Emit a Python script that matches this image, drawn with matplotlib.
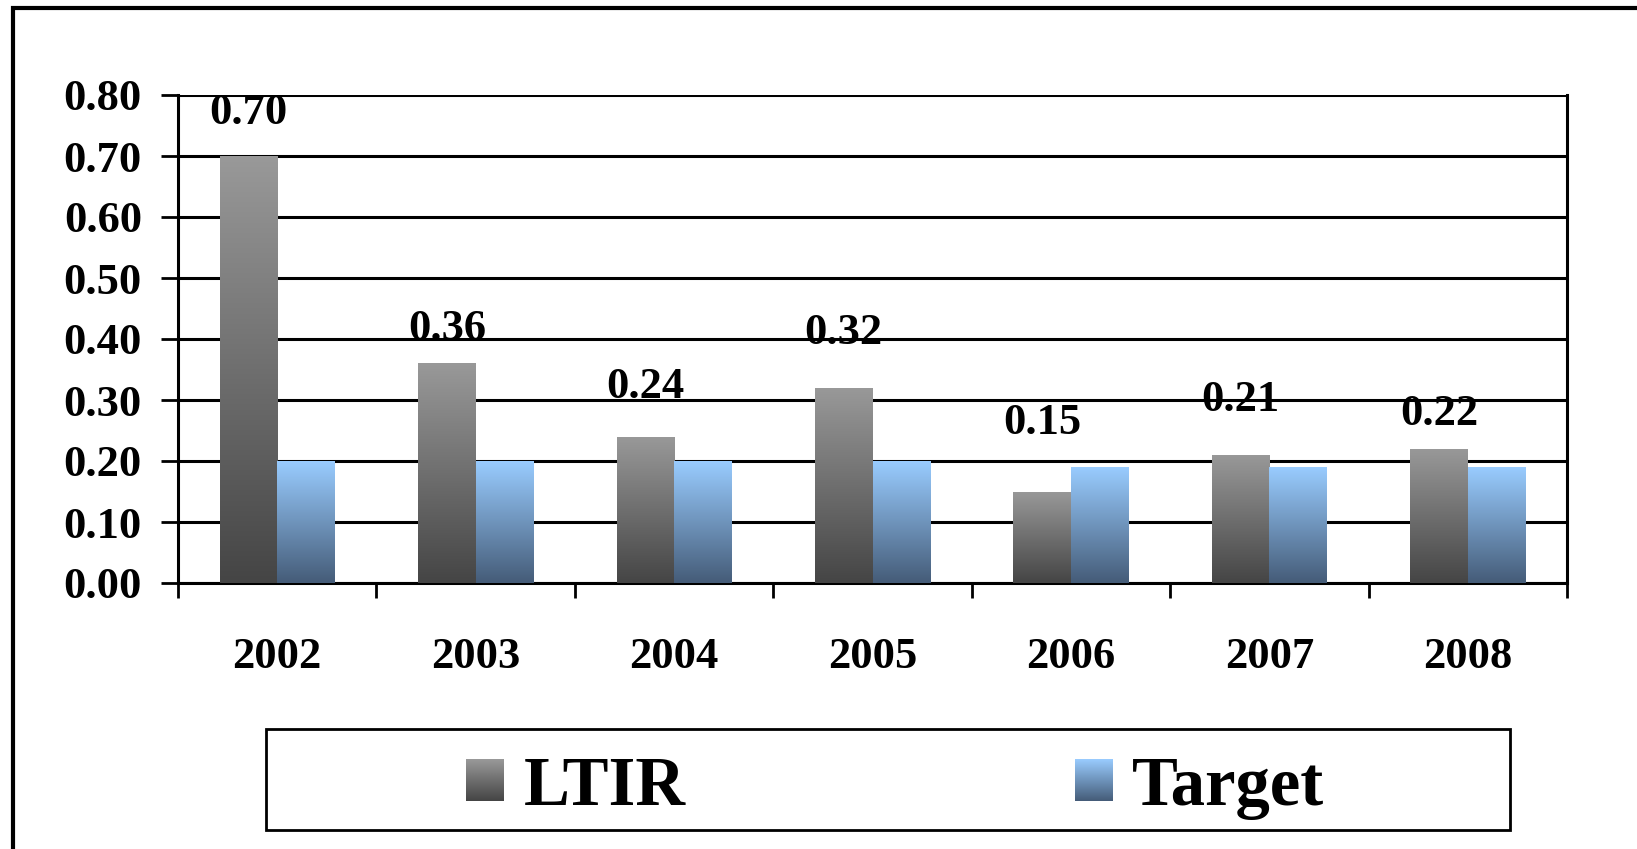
import numpy as np
import matplotlib
matplotlib.use("Agg")
import matplotlib.pyplot as plt
from matplotlib.patches import Rectangle
from matplotlib.image import BboxImage
from matplotlib.transforms import Bbox, TransformedBbox
from matplotlib.legend_handler import HandlerBase

# ---------------------------------------------------------
# data
# ---------------------------------------------------------
years = ["2002", "2003", "2004", "2005", "2006", "2007", "2008"]
ltir = [0.70, 0.36, 0.24, 0.32, 0.15, 0.21, 0.22]
target = [0.20, 0.20, 0.20, 0.20, 0.19, 0.19, 0.19]
ltir_labels = ["0.70", "0.36", "0.24", "0.32", "0.15", "0.21", "0.22"]
yticks = [0.0, 0.1, 0.2, 0.3, 0.4, 0.5, 0.6, 0.7, 0.8]

# label lift above each bar (pixels), as placed in the original
label_lift = [43, 34, 50, 55, 68, 55, 35]

plt.rcParams["font.family"] = ["Liberation Serif", "DejaVu Serif"]
plt.rcParams["font.weight"] = "bold"

GRAY = ((0.60, 0.60, 0.60), (0.27, 0.27, 0.27))
BLUE = ((0.60, 0.80, 1.00), (0.27, 0.36, 0.47))


def gradient(top, bottom, n=256):
    t = np.linspace(0, 1, n)[:, None]
    top = np.array(top)
    bottom = np.array(bottom)
    img = top[None, :] * (1 - t) + bottom[None, :] * t
    return img[:, None, :]


fig = plt.figure(figsize=(16.37, 8.49), dpi=100)
ax = fig.add_axes([178 / 1637, 1 - 583 / 849, (1567 - 178) / 1637, (583 - 95) / 849])

x = np.arange(len(years))
w = 0.29
bars1 = ax.bar(x - w / 2, ltir, w, color="none", edgecolor="none", zorder=3)
bars2 = ax.bar(x + w / 2, target, w, color="none", edgecolor="none", zorder=3)

# gradient fill for every bar, clipped to the bar rectangle
for bars, cols in ((bars1, GRAY), (bars2, BLUE)):
    for b in bars:
        x0, y0 = b.get_x(), b.get_y()
        im = ax.imshow(gradient(*cols), extent=(x0, x0 + b.get_width(), y0, y0 + b.get_height()),
                       aspect="auto", zorder=3, interpolation="bilinear")
        im.set_clip_path(b)

ax.set_xlim(-0.5, len(years) - 0.5)
ax.set_ylim(0, 0.8)

# value labels on LTIR bars
for b, txt, lift in zip(bars1, ltir_labels, label_lift):
    ax.annotate(txt, (b.get_x() + b.get_width() / 2, b.get_height()),
                xytext=(0, lift), textcoords="offset pixels",
                ha="center", va="center", fontsize=32, fontweight="bold", zorder=5)

# grid and axes
ax.set_yticks(yticks)
ax.set_yticklabels(["%.2f" % v for v in yticks])
ax.yaxis.grid(True, color="black", linewidth=2.2, zorder=0)
ax.set_axisbelow(True)
ax.set_xticks(np.arange(len(years) + 1) - 0.5)
ax.set_xticklabels([])
ax.set_xticks(x, minor=True)
ax.set_xticklabels(years, minor=True)
ax.tick_params(axis="x", which="major", length=11, width=2, direction="out")
ax.tick_params(axis="x", which="minor", length=0, pad=39, labelsize=32)
ax.tick_params(axis="y", length=12, width=2, pad=14, labelsize=32)
for lab in ax.get_xticklabels(minor=True) + ax.get_yticklabels():
    lab.set_fontweight("bold")

ax.spines["top"].set_visible(False)
for s in ("left", "right", "bottom"):
    ax.spines[s].set_linewidth(2.2)
    ax.spines[s].set_color("black")


# legend with gradient swatches
class GradientHandler(HandlerBase):
    def __init__(self, cols):
        super().__init__()
        self.cols = cols

    def create_artists(self, legend, orig_handle, xdescent, ydescent, width, height, fontsize, trans):
        bb = Bbox.from_bounds(-xdescent, -ydescent, width, height)
        im = BboxImage(TransformedBbox(bb, trans), interpolation="bilinear")
        im.set_data(gradient(*self.cols))
        return [im]


h1 = Rectangle((0, 0), 1, 1)
h2 = Rectangle((0, 0), 1, 1)
leg = fig.legend([h1, h2], ["LTIR", "Target"], ncol=2, frameon=False,
                 loc="center left", bbox_to_anchor=(432 / 1637, 1 - 788 / 849),
                 borderpad=0, prop={"size": 49.5, "weight": "bold"},
                 handlelength=0.545, handleheight=0.545, handletextpad=0.285,
                 columnspacing=5.66,
                 handler_map={h1: GradientHandler(GRAY), h2: GradientHandler(BLUE)})

# legend frame
fig.patches.append(Rectangle((266 / 1637, 1 - 830 / 849), (1510 - 266) / 1637, (830 - 729) / 849,
                             transform=fig.transFigure, fill=False, edgecolor="black", linewidth=2))
# outer chart border (runs off the right and bottom of the image)
fig.patches.append(Rectangle((13 / 1637, -0.1), 1.1, 1 - 8 / 849 + 0.1,
                             transform=fig.transFigure, fill=False, edgecolor="black", linewidth=3))

fig.savefig("out.png", dpi=100)
